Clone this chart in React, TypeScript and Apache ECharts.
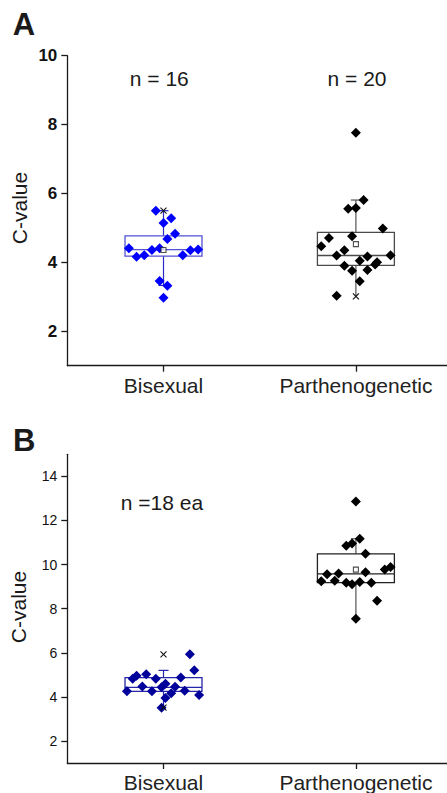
import React, { useEffect, useRef } from "react";
import * as echarts from "echarts";

const categories = ["Bisexual", "Parthenogenetic"];
const categoryPos = [1, 2];

const yTicksA = [2, 4, 6, 8, 10];
const yMinorA = [3, 5, 7, 9];
const yTicksB = [2, 4, 6, 8, 10, 12, 14];
const yMinorB = [3, 5, 7, 9, 11, 13];

// Panel A points
const aBisVal = [5.5, 5.14, 5.28, 4.83, 4.68, 4.41, 4.16, 4.21, 4.36, 4.41, 4.21, 4.35, 4.37, 3.46, 3.32, 2.97];
const aBisPos = [0.96, 1.0, 1.04, 1.06, 1.02, 0.82, 0.86, 0.9, 0.94, 0.98, 1.1, 1.14, 1.18, 0.98, 1.02, 1.0];
const aParVal = [7.76, 5.81, 5.56, 5.58, 4.98, 4.71, 4.76, 4.47, 4.35, 4.2, 4.21, 4.17, 4.05, 4.0, 3.94, 3.9, 3.76, 3.78, 3.45, 3.03];
const aParPos = [2.0, 2.04, 1.96, 2.0, 2.14, 1.86, 1.98, 1.82, 1.94, 1.9, 2.18, 2.06, 2.02, 2.11, 2.1, 1.94, 1.98, 2.06, 2.02, 1.9];

// Panel B points
const bBisVal = [5.93, 5.21, 5.03, 4.96, 4.82, 4.82, 4.88, 4.47, 4.59, 4.43, 4.46, 4.25, 4.25, 4.28, 4.08, 4.16, 3.95, 3.51];
const bBisPos = [1.137, 1.16, 0.91, 0.86, 0.84, 0.96, 1.09, 0.89, 1.01, 0.99, 1.06, 0.81, 0.94, 1.11, 1.185, 1.04, 1.01, 0.99];
const bParVal = [12.86, 11.17, 10.95, 10.85, 10.49, 9.89, 9.77, 9.56, 9.59, 9.65, 9.24, 9.27, 9.17, 9.11, 9.21, 9.18, 8.36, 7.54];
const bParPos = [2.0, 2.02, 1.98, 1.95, 2.05, 2.18, 2.15, 1.85, 1.91, 2.05, 1.82, 1.89, 1.95, 1.98, 2.02, 2.08, 2.11, 2.0];

// Box statistics: [position, whiskerLow, q1, median, q3, whiskerHigh]
const boxA = [
  [1, 3.33, 4.18, 4.37, 4.77, 5.5],
  [2, 3.01, 3.91, 4.2, 4.87, 5.81],
];
const boxB = [
  [1, 3.51, 4.25, 4.43, 4.87, 5.2],
  [2, 7.54, 9.18, 9.58, 10.48, 11.17],
];
// caps: [lowCap, highCap]
const capsA = [[1, 1], [0, 1]];
const capsB = [[0, 1], [0, 1]];
// means (visible ones)
const meanA = [[1, 4.36], [2, 4.53]];
const meanB = [[2, 9.77]];
// x markers (1% / 99%)
const crossA = [[1, 5.5], [2, 3.01]];
const crossB = [[1, 5.93], [1, 3.51]];

const FONT = "'Liberation Sans', Arial, sans-serif";

export default function App() {
  const ref = useRef<HTMLDivElement>(null);

  useEffect(() => {
    if (!ref.current) return;
    const chart = echarts.init(ref.current, null, { renderer: "svg" });

    const gridLeft = 67.3;
    const gridW = 447 - gridLeft;
    const xMin = 0.5;
    const xMax = 0.5 + gridW / 192.4;

    const mkX = (gi: number) => ({
      type: "value",
      gridIndex: gi,
      min: xMin,
      max: xMax,
      axisLine: { show: true, lineStyle: { color: "#1a1a1a", width: 1.3 } },
      axisTick: { show: true, length: 6, customValues: categoryPos, lineStyle: { color: "#1a1a1a", width: 1.3 } },
      axisLabel: {
        show: true,
        customValues: categoryPos,
        formatter: (v: number) => categories[Math.round(v) - 1] || "",
        fontSize: 21,
        fontFamily: FONT,
        color: "#222",
        margin: 9,
      },
      splitLine: { show: false },
    });

    const mkY = (gi: number, min: number, max: number, ticks: number[], bold: boolean, fs: number) => ({
      type: "value",
      gridIndex: gi,
      min,
      max,
      axisLine: { show: true, lineStyle: { color: "#1a1a1a", width: 1.3 } },
      axisTick: { show: true, length: 6, customValues: ticks, lineStyle: { color: "#1a1a1a", width: 1.3 } },
      axisLabel: {
        show: true,
        customValues: ticks,
        fontSize: fs,
        fontWeight: bold ? "bold" : "normal",
        fontFamily: FONT,
        color: "#111",
        margin: 10,
      },
      splitLine: { show: false },
    });
    const mkYMinor = (gi: number, min: number, max: number, ticks: number[]) => ({
      type: "value",
      gridIndex: gi,
      min,
      max,
      axisLine: { show: false },
      axisTick: { show: true, length: 4, customValues: ticks, lineStyle: { color: "#1a1a1a", width: 1.3 } },
      axisLabel: { show: false, customValues: ticks },
      splitLine: { show: false },
    });

    const boxSeries = (xi: number, yi: number, data: number[][], caps: number[][], stroke: string, whisker: string) => ({
      type: "custom",
      xAxisIndex: xi,
      yAxisIndex: yi,
      z: 1,
      data: data.map((d, i) => [...d, caps[i][0], caps[i][1]]),
      encode: { x: 0, y: [1, 2, 3, 4, 5] },
      renderItem: (params: any, api: any) => {
        const x = api.value(0);
        const lo = api.value(1), q1 = api.value(2), med = api.value(3), q3 = api.value(4), hi = api.value(5);
        const capLo = api.value(6), capHi = api.value(7);
        const tl = api.coord([x - 0.2, q3]);
        const br = api.coord([x + 0.2, q1]);
        const mL = api.coord([x - 0.2, med]);
        const mR = api.coord([x + 0.2, med]);
        const pHi = api.coord([x, hi]);
        const pLo = api.coord([x, lo]);
        const children: any[] = [
          { type: "line", shape: { x1: pHi[0], y1: pHi[1], x2: pHi[0], y2: tl[1] }, style: { stroke: whisker, lineWidth: 1.2 } },
          { type: "line", shape: { x1: pLo[0], y1: br[1], x2: pLo[0], y2: pLo[1] }, style: { stroke: whisker, lineWidth: 1.2 } },
          { type: "rect", shape: { x: tl[0], y: tl[1], width: br[0] - tl[0], height: br[1] - tl[1] }, style: { fill: "none", stroke, lineWidth: 1.3 } },
          { type: "line", shape: { x1: mL[0], y1: mL[1], x2: mR[0], y2: mR[1] }, style: { stroke, lineWidth: 1.3 } },
        ];
        if (capHi) children.push({ type: "line", shape: { x1: pHi[0] - 5, y1: pHi[1], x2: pHi[0] + 5, y2: pHi[1] }, style: { stroke: whisker, lineWidth: 1.2 } });
        if (capLo) children.push({ type: "line", shape: { x1: pLo[0] - 5, y1: pLo[1], x2: pLo[0] + 2, y2: pLo[1] }, style: { stroke: whisker, lineWidth: 1.2 } });
        return { type: "group", children };
      },
    });

    const crossSeries = (xi: number, yi: number, data: number[][]) => ({
      type: "custom",
      xAxisIndex: xi,
      yAxisIndex: yi,
      z: 4,
      data,
      renderItem: (params: any, api: any) => {
        const p = api.coord([api.value(0), api.value(1)]);
        const s = 3;
        return {
          type: "group",
          children: [
            { type: "line", shape: { x1: p[0] - s, y1: p[1] - s, x2: p[0] + s, y2: p[1] + s }, style: { stroke: "#111", lineWidth: 1.1 } },
            { type: "line", shape: { x1: p[0] - s, y1: p[1] + s, x2: p[0] + s, y2: p[1] - s }, style: { stroke: "#111", lineWidth: 1.1 } },
          ],
        };
      },
    });

    const meanSeries = (xi: number, yi: number, data: number[][]) => ({
      type: "scatter",
      xAxisIndex: xi,
      yAxisIndex: yi,
      z: 4,
      symbol: "rect",
      symbolSize: 5,
      itemStyle: { color: "#fff", borderColor: "#222", borderWidth: 1.1 },
      data,
    });

    const pts = (xi: number, yi: number, pos: number[], val: number[], color: string) => ({
      type: "scatter",
      xAxisIndex: xi,
      yAxisIndex: yi,
      z: 3,
      symbol: "diamond",
      symbolSize: 10,
      itemStyle: { color, opacity: 1 },
      data: val.map((v, i) => [pos[i], v]),
    });

    const txt = (text: string, x: number, y: number, size: number, weight = "normal", rotation = 0, align = "center") => ({
      type: "text",
      x,
      y,
      rotation,
      z: 10,
      style: {
        text,
        fill: "#1a1a1a",
        font: `${weight} ${size}px ${FONT}`,
        fontSize: size,
        fontWeight: weight,
        fontFamily: FONT,
        textAlign: align,
        align,
        textVerticalAlign: "middle",
        verticalAlign: "middle",
      },
    });

    chart.setOption({
      animation: false,
      backgroundColor: "#fff",
      grid: [
        { left: gridLeft, top: 55.7, width: gridW, height: 310, containLabel: false },
        { left: gridLeft, top: 454.3, width: gridW, height: 310, containLabel: false },
      ],
      xAxis: [mkX(0), mkX(1)],
      yAxis: [
        mkY(0, 1, 10, yTicksA, true, 17),
        mkYMinor(0, 1, 10, yMinorA),
        mkY(1, 1, 15, yTicksB, false, 14),
        mkYMinor(1, 1, 15, yMinorB),
      ],
      series: [
        boxSeries(0, 0, boxA.slice(0, 1), capsA.slice(0, 1), "#5252d4", "#2a2ac8"),
        boxSeries(0, 0, boxA.slice(1), capsA.slice(1), "#4a4a4a", "#555"),
        boxSeries(1, 2, boxB.slice(0, 1), capsB.slice(0, 1), "#2626a8", "#2626a8"),
        boxSeries(1, 2, boxB.slice(1), capsB.slice(1), "#222", "#555"),
        pts(0, 0, aBisPos, aBisVal, "#0000ff"),
        pts(0, 0, aParPos, aParVal, "#000"),
        pts(1, 2, bBisPos, bBisVal, "#00009a"),
        pts(1, 2, bParPos, bParVal, "#000"),
        meanSeries(0, 0, meanA),
        meanSeries(1, 2, meanB),
        crossSeries(0, 0, crossA),
        crossSeries(1, 2, crossB),
      ],
      graphic: [
        txt("A", 12.7, 24.7, 31, "bold", 0, "left"),
        txt("B", 13, 440.8, 31, "bold", 0, "left"),
        txt("n = 16", 159.3, 78, 21),
        txt("n = 20", 357, 78, 21),
        txt("n =18 ea", 162, 502, 21),
        txt("C-value", 19.3, 208, 21, "normal", Math.PI / 2),
        txt("C-value", 18.5, 607, 21, "normal", Math.PI / 2),
      ],
    });

    return () => chart.dispose();
  }, []);

  return (
    <div
      ref={ref}
      style={{ position: "absolute", left: 0, top: 0, width: 447, height: 793, background: "#fff" }}
    />
  );
}
